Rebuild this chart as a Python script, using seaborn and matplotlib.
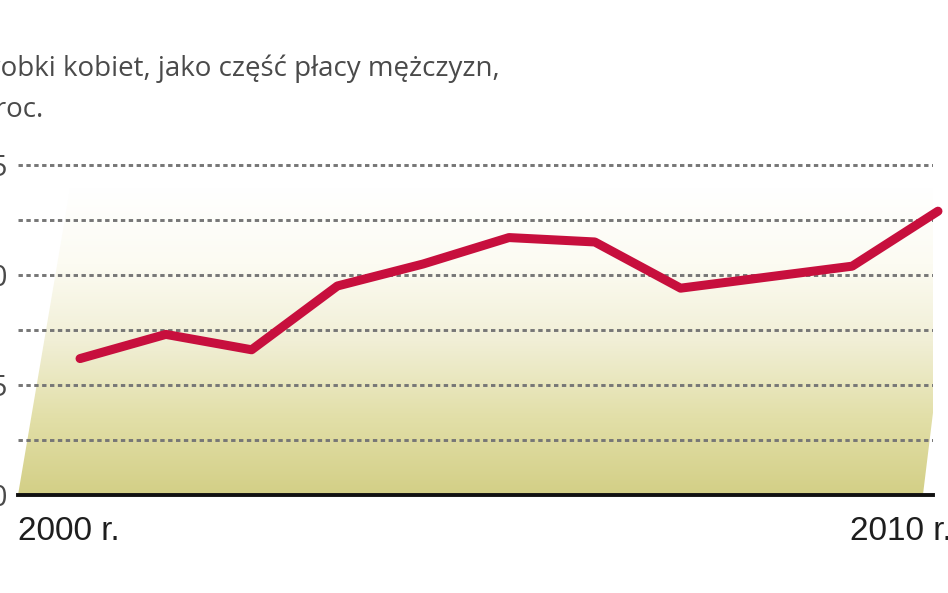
import numpy as np
import pandas as pd
import seaborn as sns
import matplotlib.pyplot as plt
from matplotlib.colors import LinearSegmentedColormap
from matplotlib.patches import Polygon

# Women's pay as a share of men's pay, per cent
years = [2000, 2001, 2002, 2003, 2004, 2005, 2006, 2007, 2008, 2009, 2010]
share = [76.2, 77.3, 76.6, 79.5, 80.5, 81.7, 81.5, 79.4, 79.9, 80.4, 82.9]

y_major = [70, 75, 80, 85]
y_grid = [72.5, 75, 77.5, 80, 82.5, 85]
x_label_first = "2000 r."
x_label_last = "2010 r."
title_1 = "Zarobki kobiet, jako część płacy mężczyzn,"
title_2 = "w proc."

df = pd.DataFrame({"rok": years, "udzial": share})

sns.set_style("white")
plt.rcParams["font.family"] = ["Open Sans", "DejaVu Sans"]

W, H = 948, 593
fig = plt.figure(figsize=(W / 100, H / 100), dpi=100)
ax = fig.add_axes([18 / W, 98 / H, 915 / W, 345 / H])

# gradient backdrop (parallelogram fading from olive to white)
cmap = LinearSegmentedColormap.from_list(
    "olive", ["#d3cf86", "#e2dfa8", "#f1efd6", "#fcfbf2", "#ffffff"])
grad = np.linspace(0, 1, 256).reshape(-1, 1)
poly = Polygon([(0, 0), (0.057, 0.89), (1.03, 0.89), (0.989, 0)],
               closed=True, transform=ax.transAxes, facecolor="none",
               edgecolor="none")
ax.add_patch(poly)
im = ax.imshow(grad, cmap=cmap, aspect="auto", origin="lower",
               extent=[0, 1.03, 0, 0.89], transform=ax.transAxes,
               zorder=0, clip_on=True)
im.set_clip_path(poly)

sns.lineplot(data=df, x="rok", y="udzial", ax=ax, color="#c70f3d",
             linewidth=6.5, solid_joinstyle="round", solid_capstyle="round",
             zorder=4, clip_on=False)

ax.set_xlim(1999.277, 2009.942)
ax.set_ylim(70, 85.68)

ax.set_yticks(y_major)
ax.set_yticklabels([str(v) for v in y_major])
ax.set_yticks(y_grid, minor=True)
ax.tick_params(axis="y", which="both", length=0, pad=7,
               labelsize=21, labelcolor="#4a4a4a")
for v in y_grid:
    ax.axhline(v, color="#767676", linewidth=2.1, linestyle=(0, (1.5, 1.2)),
               zorder=2)

ticks = np.linspace(2000.233, 2008.99, 10)
ax.set_xticks(ticks)
ax.set_xticklabels([])
ax.tick_params(axis="x", which="major", direction="out", length=7,
               width=1.2, color="#222222")

for s in ["top", "left", "right"]:
    ax.spines[s].set_visible(False)
ax.spines["bottom"].set_linewidth(2.8)
ax.spines["bottom"].set_color("#111111")
ax.spines["bottom"].set_zorder(5)
ax.set_xlabel("")
ax.set_ylabel("")
ax.grid(False)

# narrow year labels; fall back to Liberation Sans if no narrow face
lab_kw = dict(transform=ax.transAxes, ha="left", va="center",
              color="#1e1e1e")
t_a = ax.text(0.0, -0.105, x_label_first, fontsize=29,
              family=["Liberation Sans Narrow", "DejaVu Sans"],
              fontstretch="condensed", **lab_kw)
t_b = ax.text(0.909, -0.105, x_label_last, fontsize=29,
              family=["Liberation Sans Narrow", "DejaVu Sans"],
              fontstretch="condensed", **lab_kw)
fig.canvas.draw()
if t_a.get_window_extent().width > 118:
    for t in (t_a, t_b):
        t.set_family(["Liberation Sans", "DejaVu Sans"])
        t.set_fontstretch("normal")
        t.set_fontsize(24)

# title, cut off on the left like the source
t1 = fig.text(500 / W, 1 - 76 / H, title_1, ha="right", va="baseline",
              fontsize=20, color="#4a4a4a")
fig.canvas.draw()
x0 = t1.get_window_extent().x0
fig.text((x0 - 9) / W, 1 - 117 / H, title_2, ha="left", va="baseline",
         fontsize=20, color="#4a4a4a")

fig.savefig("out.png", dpi=100)
